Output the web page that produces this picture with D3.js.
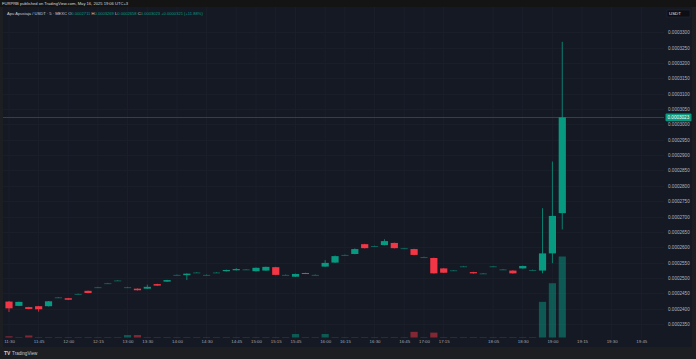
<!DOCTYPE html>
<html><head><meta charset="utf-8">
<script src="https://cdn.jsdelivr.net/npm/d3@7"></script>
<style>html,body{margin:0;padding:0;background:#1d1e21;}svg{display:block}</style>
</head><body><svg id="c" width="696" height="359"></svg>
<script>
// ---- data (5-minute bars, APU/USDT on MEXC) ----
const opens = [0.0002423,0.0002409,0.0002405,0.0002408,0.0002408,0.0002437,0.0002434,0.0002448,0.0002458,0.0002470,
0.0002483,0.0002492,0.0002470,0.0002465,0.0002465,0.0002480,0.0002488,0.0002510,0.0002509,0.0002518,
0.0002510,0.0002518,0.0002522,0.0002525,0.0002528,0.0002522,0.0002524,0.0002535,0.0002510,0.0002504,
0.0002516,0.0002510,0.0002537,0.0002550,0.0002575,0.0002578,0.0002610,0.0002604,0.0002607,0.0002614,
0.0002597,0.0002594,0.0002568,0.0002565,0.0002531,0.0002525,0.0002538,0.0002519,0.0002515,0.0002538,
0.0002528,0.0002524,0.0002531,0.0002526,0.0002524,0.0002580,0.0002711];
const highs = [0.0002425,0.0002423,0.0002406,0.0002409,0.0002425,0.0002438,0.0002435,0.0002449,0.0002459,0.0002471,
0.0002484,0.0002493,0.0002471,0.0002466,0.0002478,0.0002481,0.0002494,0.0002511,0.0002515,0.0002519,
0.0002511,0.0002519,0.0002527,0.0002532,0.0002529,0.0002534,0.0002537,0.0002536,0.0002511,0.0002514,
0.0002517,0.0002511,0.0002558,0.0002573,0.0002576,0.0002596,0.0002611,0.0002605,0.0002626,0.0002615,
0.0002598,0.0002595,0.0002569,0.0002566,0.0002532,0.0002526,0.0002539,0.0002520,0.0002516,0.0002539,
0.0002529,0.0002525,0.0002540,0.0002527,0.0002727,0.0002879,0.0003269];
const lows = [0.0002389,0.0002408,0.0002398,0.0002390,0.0002407,0.0002436,0.0002428,0.0002447,0.0002450,0.0002469,
0.0002482,0.0002491,0.0002469,0.0002459,0.0002464,0.0002474,0.0002487,0.0002509,0.0002493,0.0002517,
0.0002509,0.0002517,0.0002521,0.0002524,0.0002527,0.0002521,0.0002523,0.0002509,0.0002509,0.0002503,
0.0002514,0.0002509,0.0002536,0.0002549,0.0002574,0.0002577,0.0002596,0.0002603,0.0002606,0.0002596,
0.0002596,0.0002574,0.0002567,0.0002514,0.0002516,0.0002524,0.0002537,0.0002514,0.0002514,0.0002537,
0.0002527,0.0002514,0.0002530,0.0002525,0.0002515,0.0002548,0.0002658];
const closes = [0.0002401,0.0002422,0.0002399,0.0002398,0.0002424,0.0002437,0.0002429,0.0002448,0.0002451,0.0002470,
0.0002483,0.0002492,0.0002470,0.0002460,0.0002471,0.0002475,0.0002493,0.0002510,0.0002514,0.0002518,
0.0002510,0.0002518,0.0002526,0.0002529,0.0002528,0.0002533,0.0002536,0.0002510,0.0002510,0.0002513,
0.0002515,0.0002510,0.0002549,0.0002571,0.0002575,0.0002594,0.0002597,0.0002604,0.0002620,0.0002597,
0.0002597,0.0002575,0.0002568,0.0002515,0.0002517,0.0002525,0.0002538,0.0002515,0.0002515,0.0002538,
0.0002528,0.0002515,0.0002539,0.0002526,0.0002580,0.0002702,0.0003023];
const volumes = [1.5,0.6,2.5,0.6,0.6,0.6,0.6,0.6,0.6,0.6,
0.6,0.6,3,3,0.6,0.6,0.6,0.6,0.6,0.6,
0.6,0.6,0.6,0.6,0.6,0.6,0.6,0.6,0.6,4.3,
0.6,0.6,4.3,0.6,0.6,0.6,0.6,0.6,0.6,0.6,
0.6,7,0.6,6,0.6,0.6,0.6,0.6,0.6,0.6,
0.6,0.6,0.6,0.6,44,67,100];
const timeTickIndex = [0,3,6,9,12,14,17,20,23,25,27,29,32,34,37,40,42,44,49,52,55,58,61,64];
const timeTickLabels = ["11:30","11:45","12:00","12:15","13:00","13:30","14:00","14:30","14:45","15:00","15:15","15:45","16:00","16:15","16:30","16:45","17:00","17:15","18:05","18:30","19:00","19:15","19:30","19:45"];
const priceTickLabels = ["0.0003300","0.0003250","0.0003200","0.0003150","0.0003100","0.0003050","0.0003000","0.0002950","0.0002900","0.0002850","0.0002800","0.0002750","0.0002700","0.0002650","0.0002600","0.0002550","0.0002500","0.0002450","0.0002400","0.0002350"];
const symbol = "Apu Apustaja / USDT · 5 · MEXC";
const publishedLine = "FURPRB published on TradingView.com, May 16, 2025 19:06 UTC+3";
const prevClose = 0.0002702;

// ---- layout ----
const UP = "#089981", DOWN = "#f23645";
const svg = d3.select("#c");
const font = "'Liberation Sans', Arial, sans-serif";
const panel = {x0: 3, x1: 692, y0: 7, y1: 347};
const plotRight = 664, plotBottom = 339;

const x = d3.scaleLinear().domain([0, 64]).range([9, 9 + 9.88 * 64]);
const y = d3.scaleLinear().domain([0.000235, 0.00033]).range([324, 32.3]);
const yv = d3.scaleLinear().domain([0, 100]).range([337.5, 256.5]);
const bw = 7.2;

svg.append("rect").attr("width", 696).attr("height", 359).attr("fill", "#1d1e21");
svg.append("rect").attr("x", 0).attr("y", 0).attr("width", 696).attr("height", 7).attr("fill", "#141414");
svg.append("rect").attr("x", panel.x0).attr("y", panel.y0).attr("width", panel.x1 - panel.x0).attr("height", panel.y1 - panel.y0).attr("fill", "#151924");

// grid
const priceVals = priceTickLabels.map(Number);
svg.append("g").selectAll("line").data(timeTickIndex).join("line")
  .attr("x1", d => x(d)).attr("x2", d => x(d)).attr("y1", panel.y0).attr("y2", plotBottom)
  .attr("stroke", "#1b1f2b").attr("stroke-width", 1);
svg.append("g").selectAll("line").data(priceVals).join("line")
  .attr("x1", panel.x0).attr("x2", plotRight).attr("y1", d => Math.round(y(d)) + 0.5).attr("y2", d => Math.round(y(d)) + 0.5)
  .attr("stroke", "#1a1e29").attr("stroke-width", 1);

const idx = d3.range(opens.length);
const col = i => closes[i] >= opens[i] ? UP : DOWN;

// volume
svg.append("g").selectAll("rect").data(idx).join("rect")
  .attr("x", i => x(i) - bw / 2).attr("width", bw)
  .attr("y", i => yv(volumes[i])).attr("height", i => yv(0) - yv(volumes[i]))
  .attr("fill", i => col(i)).attr("opacity", 0.5);

// last price line
svg.append("line").attr("x1", panel.x0).attr("x2", plotRight)
  .attr("y1", Math.round(y(closes[closes.length - 1])) + 0.5).attr("y2", Math.round(y(closes[closes.length - 1])) + 0.5)
  .attr("stroke", "#3a4a52").attr("stroke-width", 0.8);

// candles
const cg = svg.append("g");
cg.selectAll("line").data(idx).join("line")
  .attr("x1", i => x(i)).attr("x2", i => x(i))
  .attr("y1", i => y(highs[i])).attr("y2", i => y(lows[i]))
  .attr("stroke", i => col(i)).attr("stroke-width", 0.8);
cg.selectAll("rect").data(idx).join("rect")
  .attr("x", i => x(i) - bw / 2).attr("width", bw)
  .attr("y", i => y(Math.max(opens[i], closes[i])))
  .attr("height", i => Math.max(1, y(Math.min(opens[i], closes[i])) - y(Math.max(opens[i], closes[i]))))
  .attr("fill", i => col(i))
  .attr("opacity", i => Math.abs(opens[i] - closes[i]) < 1e-9 ? 0.55 : 1);

// price axis
const ya = d3.axisRight(y).tickValues(priceVals).tickFormat((d, i) => priceTickLabels[i]).tickSize(0).tickPadding(0);
const yag = svg.append("g").attr("transform", `translate(668,0)`).call(ya);
yag.select(".domain").remove();
yag.selectAll("text").attr("fill", "#b2b5be").attr("font-size", 4.6).attr("font-family", font);

// time axis
const xa = d3.axisBottom(x).tickValues(timeTickIndex).tickFormat((d, i) => timeTickLabels[i]).tickSize(0).tickPadding(0);
const xag = svg.append("g").attr("transform", `translate(0,340)`).call(xa);
xag.select(".domain").remove();
xag.selectAll("text").attr("fill", "#a3a6af").attr("font-size", 4.4).attr("font-family", font);

// last price label
const lastC = closes[closes.length - 1];
svg.append("rect").attr("x", 665.5).attr("y", y(lastC) - 3.8).attr("width", 26).attr("height", 7.6).attr("rx", 1).attr("fill", UP);
svg.append("text").attr("x", 667.5).attr("y", y(lastC) + 1.7).attr("fill", "#ffffff").attr("font-size", 4.6).attr("font-family", font).text(lastC.toFixed(7));

// USDT box
svg.append("rect").attr("x", 667).attr("y", 10).attr("width", 23).attr("height", 7).attr("fill", "#0c0e14").attr("stroke", "#2a2e39").attr("stroke-width", 0.5);
svg.append("text").attr("x", 669).attr("y", 15).attr("fill", "#e0e3eb").attr("font-size", 4.4).attr("font-family", font).text("USDT");

// header
svg.append("text").attr("x", 2).attr("y", 5.2).attr("fill", "#d8d8d8").attr("font-size", 4.1).attr("font-family", font).text(publishedLine);
const n = closes.length - 1;
const chg = lastC - prevClose;
const h = svg.append("text").attr("x", 7).attr("y", 15.4).attr("font-size", 4.1).attr("font-family", font).attr("fill", "#c9ccd4");
h.append("tspan").text(symbol + "  ");
[["O", opens[n]], ["H", highs[n]], ["L", lows[n]], ["C", closes[n]]].forEach(([k, v]) => {
  h.append("tspan").attr("fill", "#c9ccd4").text(" " + k);
  h.append("tspan").attr("fill", UP).text(v.toFixed(7));
});
h.append("tspan").attr("fill", UP).text(" +" + chg.toFixed(7) + " (+" + (chg / prevClose * 100).toFixed(2) + "%)");

// footer logo
svg.append("text").attr("x", 4).attr("y", 354.5).attr("fill", "#d0d0d0").attr("font-size", 5).attr("font-weight", "bold").attr("font-family", font).text("TV");
svg.append("text").attr("x", 12).attr("y", 354.5).attr("fill", "#c8c8c8").attr("font-size", 4.6).attr("font-family", font).text("TradingView");
</script>
</body></html>
